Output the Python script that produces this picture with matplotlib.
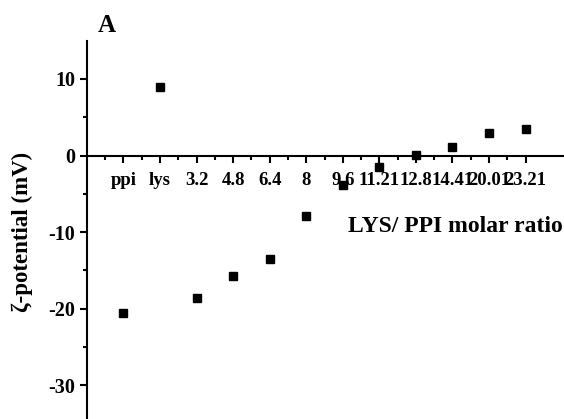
import matplotlib.pyplot as plt
import numpy as np

plt.rcParams['font.family'] = 'Liberation Serif'
plt.rcParams['font.weight'] = 'bold'
plt.rcParams['axes.unicode_minus'] = False

# data
labels = ['ppi', 'lys', '3.2', '4.8', '6.4', '8', '9.6', '11.21',
          '12.8', '14.41', '20.01', '23.21']
zeta = [-20.5, 8.9, -18.65, -15.7, -13.5, -7.9, -3.8, -1.5,
        0.1, 1.1, 3.0, 3.5]

pos = np.arange(1, len(labels) + 1)

fig = plt.figure(figsize=(5.64, 4.19), dpi=100)
ax = fig.add_axes([0.154, 0.0, 0.846, 0.903])

ax.plot(pos, zeta, 's', color='black', markersize=5.5)

ax.set_xlim(0, 13.05)
ax.set_ylim(-34.4, 15)

# axis styling
ax.spines['top'].set_visible(False)
ax.spines['right'].set_visible(False)
ax.spines['bottom'].set_position(('data', 0))
ax.spines['left'].set_linewidth(1.5)
ax.spines['bottom'].set_linewidth(1.5)

ax.set_xticks(pos)
ax.set_xticklabels(labels, fontsize=13.5, fontweight='bold')
ax.set_xticks(pos - 0.5, minor=True)
ax.set_yticks([-30, -20, -10, 0, 10])
ax.set_yticks([-25, -15, -5, 5], minor=True)
ax.tick_params(axis='y', labelsize=14.5, width=1.5, length=5)
ax.tick_params(axis='y', which='minor', width=1.5, length=3)
ax.tick_params(axis='x', width=1.5, length=5, pad=7)
ax.tick_params(axis='x', which='minor', width=1.5, length=3)
for t in ax.get_yticklabels():
    t.set_fontweight('bold')

ax.set_ylabel('ζ-potential (mV)', fontsize=16.5, fontweight='bold')
ax.yaxis.set_label_coords(-0.113, 0.494)

ax.text((348 - 87) / 477, (419 - 227) / 378.3, 'LYS/ PPI molar ratio',
        transform=ax.transAxes, fontsize=17, fontweight='bold',
        ha='left', va='center')

fig.text(107 / 564, 1 - 25 / 419, 'A', fontsize=18, fontweight='bold',
         ha='center', va='center')

plt.savefig('out.png', dpi=100)
